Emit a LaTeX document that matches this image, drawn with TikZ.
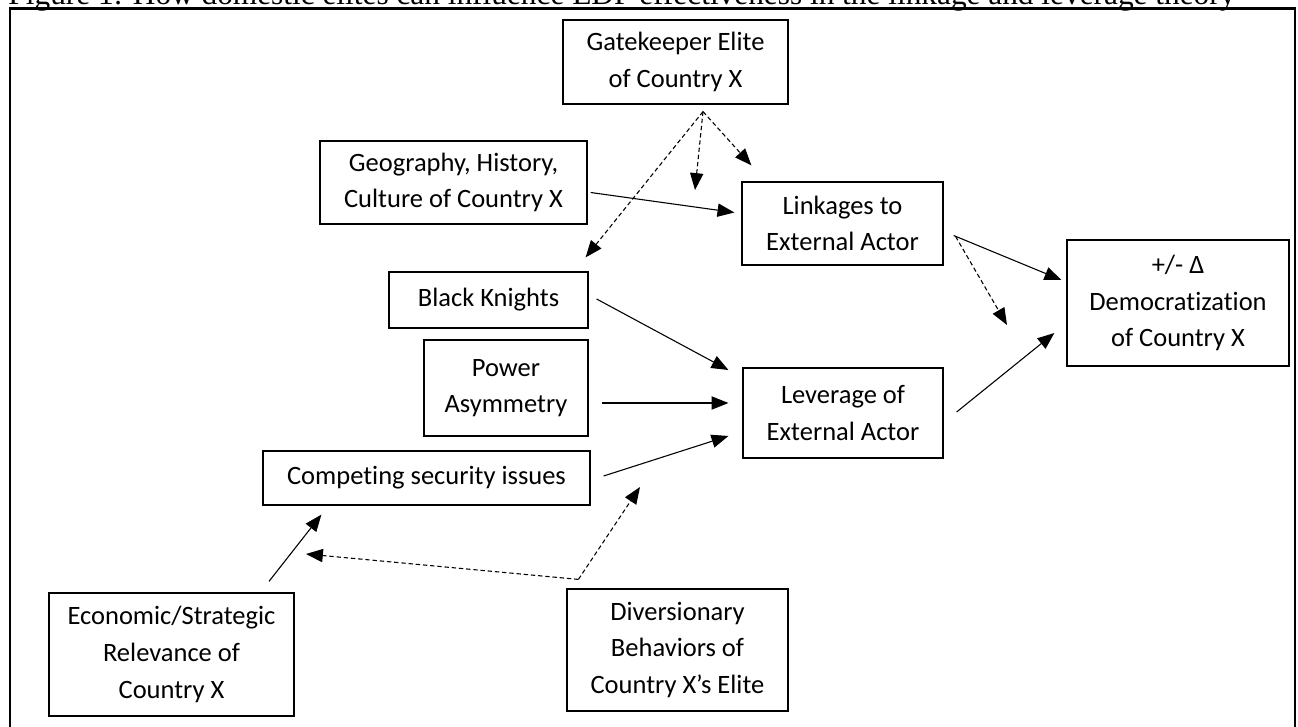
\documentclass[tikz,border=0pt]{standalone}
\usepackage{fontspec}
\setmainfont{Carlito}[Ligatures=NoCommon]
\newfontfamily\titlefont{Liberation Serif}
\usetikzlibrary{arrows.meta,calc}

\tikzset{
    box/.style={draw, line width=0.5pt, align=center, inner sep=0pt,
        font=\fontsize{11}{15.2}\selectfont},
    link/.style={line width=0.45pt, -{Triangle[length=7pt,width=5.5pt]}},
    dashlink/.style={link, dash pattern=on 1.8pt off 1.2pt}
}

\begin{document}
\begin{tikzpicture}[x=0.415pt, y=-0.415pt]
    %% page size and outer frame
    \useasboundingbox (0,0) rectangle (1298,727);
    \draw[line width=1.1pt] (10,730) -- (10,8.5) -- (1295,8.5) -- (1295,730);
    \node[anchor=base west, inner sep=0pt, font=\titlefont\fontsize{13}{15}\selectfont] (title) at (8,5)
        {Figure 1: How domestic elites can influence EDP effectiveness in the linkage and leverage theory};

    %% the boxes
    \node[box, minimum width=225*0.415pt, minimum height=84*0.415pt] (gate) at (675.5,62) {Gatekeeper Elite\\of Country X};
    \node[box, minimum width=267*0.415pt, minimum height=83*0.415pt] (geo) at (453.5,182.5) {Geography, History,\\Culture of Country X};
    \node[box, minimum width=199*0.415pt, minimum height=56*0.415pt] (bk) at (488.5,300) {Black Knights};
    \node[box, minimum width=164*0.415pt, minimum height=96*0.415pt] (pow) at (506,388) {Power\\Asymmetry};
    \node[box, minimum width=327*0.415pt, minimum height=54*0.415pt] (comp) at (426.5,478) {Competing security issues};
    \node[box, minimum width=201*0.415pt, minimum height=83*0.415pt] (linkage) at (842.5,223.5) {Linkages to\\External Actor};
    \node[box, minimum width=200*0.415pt, minimum height=90*0.415pt] (lev) at (843,413) {Leverage of\\External Actor};
    \node[box, minimum width=222*0.415pt, minimum height=126*0.415pt] (demo) at (1178,303) {+/- Δ\\Democratization\\of Country X};
    \node[box, minimum width=245*0.415pt, minimum height=123*0.415pt] (econ) at (171.5,654.5) {Economic/Strategic\\Relevance of\\Country X};
    \node[box, minimum width=221*0.415pt, minimum height=122*0.415pt] (div) at (677.5,650) {Diversionary\\Behaviors of\\Country X’s Elite};

    %% points where the dashed arrows start or end
    \coordinate (fork) at ($(gate.south)+(27.5,7)$);
    \coordinate (linkmod) at (695,190);
    \coordinate (demomod) at (1007,325);
    \coordinate (divc) at ($(div.north west)+(12,-9)$);
    \coordinate (levmod) at (640,487);
    \coordinate (compmod) at (306,554);

    %% solid arrows
    \draw[link] ($(geo.east)+(3,10)$) -- ($(linkage.west)+(-7,-11)$);
    \draw[link] ($(linkage.east)+(10,12)$) -- ($(demo.west)+(-5,-23)$);
    \draw[link] ($(lev.east)+(13,-1)$) -- ($(demo.west)+(-12,30)$);
    \draw[link] ($(bk.east)+(8,-1)$) -- ($(lev.west)+(-14,-43)$);
    \draw[link] ($(pow.east)+(13,15)$) -- ($(lev.west)+(-14,-10)$);
    \draw[link] ($(comp.east)+(13,-2)$) -- ($(lev.west)+(-14,23)$);
    \draw[link] ($(econ.north)+(97.5,-11)$) -- ($(comp.south west)+(59,9)$);

    %% dashed arrows
    \draw[dashlink] (fork) -- (linkmod);
    \draw[dashlink] (fork) -- ($(linkage.north west)+(10,-16)$);
    \draw[dashlink] (fork) -- ($(bk.north east)+(-3,-14)$);
    \draw[dashlink] ($(linkage.east)+(12,13)$) -- (demomod);
    \draw[dashlink] (divc) -- (levmod);
    \draw[dashlink] (divc) -- (compmod);
\end{tikzpicture}
\end{document}
